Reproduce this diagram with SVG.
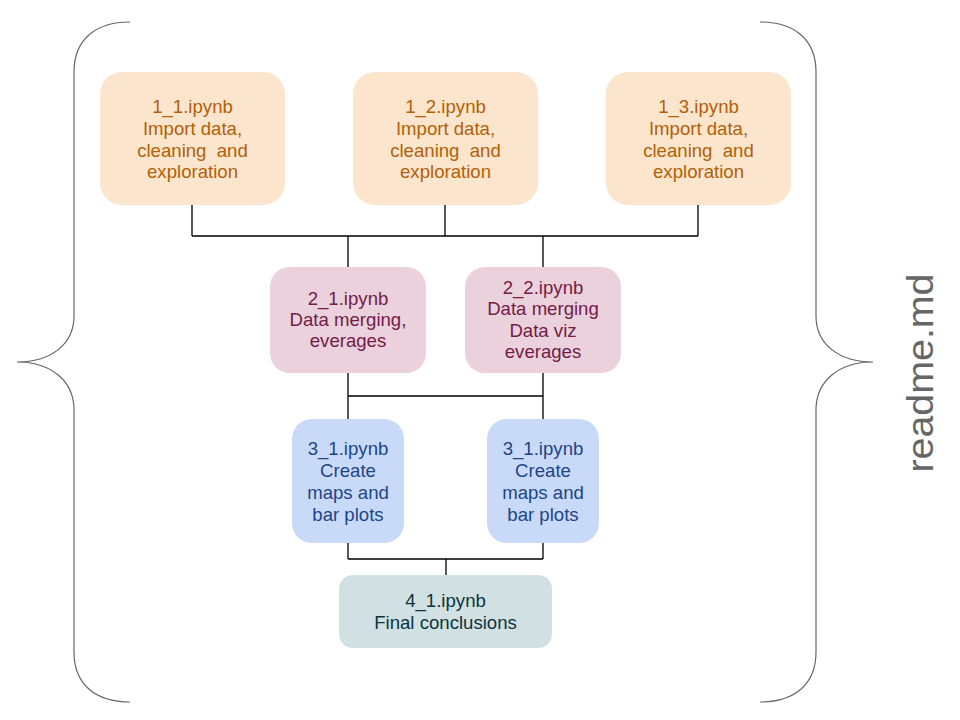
<svg xmlns="http://www.w3.org/2000/svg" width="960" height="720" viewBox="0 0 960 720">
<style>
text{font-family:"Liberation Sans",Arial,sans-serif;font-size:18.6px;text-anchor:middle}
.o rect{fill:#fce5cd}.o text{fill:#b45f06}
.p rect{fill:#ead1dc}.p text{fill:#741b47}
.b rect{fill:#c9daf8}.b text{fill:#1c4587}
.g rect{fill:#d0e0e3}.g text{fill:#0c343d}
.c{fill:none;stroke:#000;stroke-width:1.3}
.br{fill:none;stroke:#666;stroke-width:1.2}
</style>
<rect width="960" height="720" fill="#fff"/>
<g id="braces">
<path class="br" d="M130,22 C95,22 74,40 74,72 L74,316 C74,345 50,362 17,362 C50,362 74,380 74,410 L74,652 C74,684 95,702 130,702"/>
<path class="br" d="M760,22 C795,22 816,40 816,72 L816,316 C816,345 840,362 873,362 C840,362 816,380 816,410 L816,652 C816,684 795,702 760,702"/>
</g>
<g id="readme"><text transform="translate(933,373) rotate(-90)" style="font-size:36px;fill:#666" textLength="199" lengthAdjust="spacingAndGlyphs">readme.md</text></g>
<g id="connectors">
<path class="c" d="M192,205V236M445,205V236M698,205V236M192,236H698M348,236V267M543,236V267"/>
<path class="c" d="M348,373V420M543,373V420M348,396H543"/>
<path class="c" d="M348,543V559M543,543V559M348,559H543M446,559V576"/>
</g>
<g id="n1_1" class="o"><rect x="100" y="72" width="185" height="133" rx="22"/><text x="192.5" y="113">1_1.ipynb</text><text x="192.5" y="135">Import data,</text><text x="192.5" y="157" xml:space="preserve">cleaning  and</text><text x="192.5" y="178">exploration</text></g>
<g id="n1_2" class="o"><rect x="353" y="72" width="185" height="133" rx="22"/><text x="445.5" y="113">1_2.ipynb</text><text x="445.5" y="135">Import data,</text><text x="445.5" y="157" xml:space="preserve">cleaning  and</text><text x="445.5" y="178">exploration</text></g>
<g id="n1_3" class="o"><rect x="606" y="72" width="185" height="133" rx="22"/><text x="698.5" y="113">1_3.ipynb</text><text x="698.5" y="135">Import data,</text><text x="698.5" y="157" xml:space="preserve">cleaning  and</text><text x="698.5" y="178">exploration</text></g>
<g id="n2_1" class="p"><rect x="270" y="267" width="156" height="106" rx="20"/><text x="348" y="305">2_1.ipynb</text><text x="348" y="326">Data merging,</text><text x="348" y="347">everages</text></g>
<g id="n2_2" class="p"><rect x="465" y="267" width="156" height="106" rx="20"/><text x="543" y="294">2_2.ipynb</text><text x="543" y="315">Data merging</text><text x="543" y="337">Data viz</text><text x="543" y="358">everages</text></g>
<g id="n3_1a" class="b"><rect x="292" y="419" width="112" height="124" rx="20"/><text x="348" y="455">3_1.ipynb</text><text x="348" y="477">Create</text><text x="348" y="499">maps and</text><text x="348" y="521">bar plots</text></g>
<g id="n3_1b" class="b"><rect x="487" y="419" width="112" height="124" rx="20"/><text x="543" y="455">3_1.ipynb</text><text x="543" y="477">Create</text><text x="543" y="499">maps and</text><text x="543" y="521">bar plots</text></g>
<g id="n4_1" class="g"><rect x="339" y="575" width="213" height="73" rx="14"/><text x="445.5" y="607">4_1.ipynb</text><text x="445.5" y="629">Final conclusions</text></g>
</svg>
